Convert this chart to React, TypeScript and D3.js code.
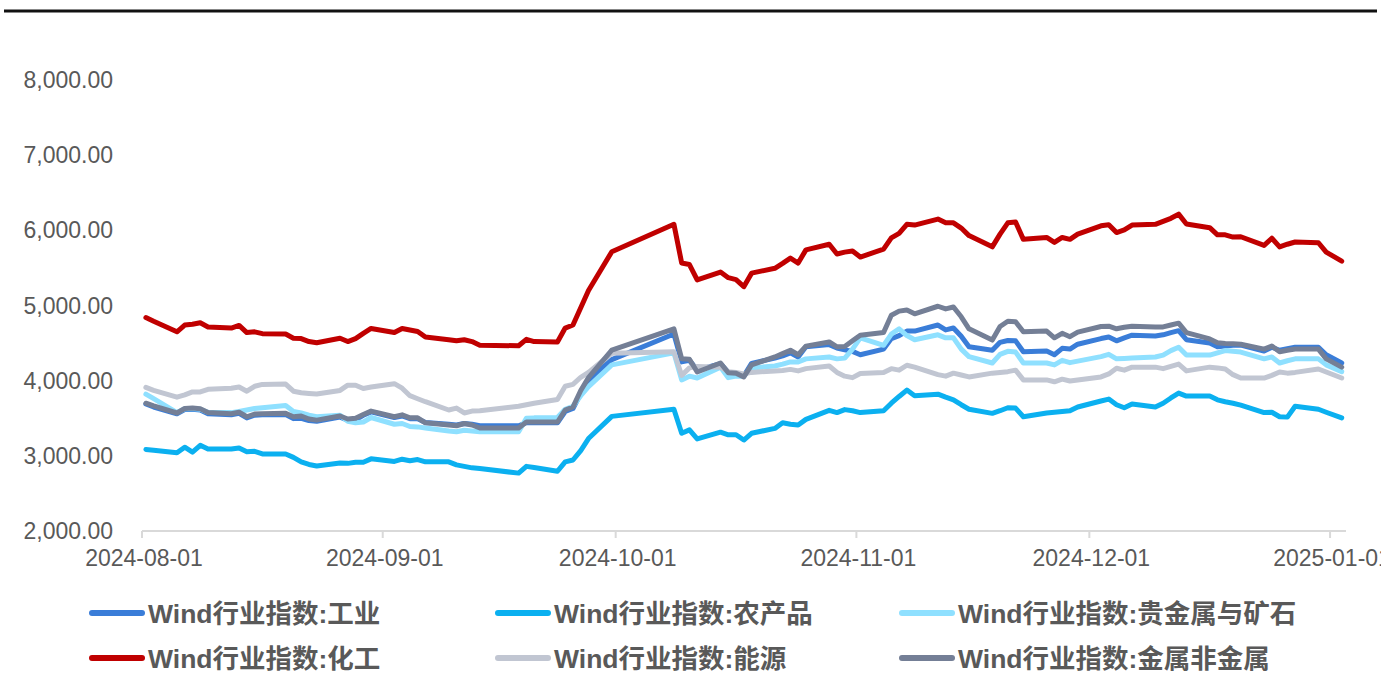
import React from "react";
import * as d3 from "d3";

const dates: string[] = [
  "2024-08-01","2024-08-02","2024-08-05","2024-08-06","2024-08-07","2024-08-08","2024-08-09","2024-08-12","2024-08-13","2024-08-14","2024-08-15","2024-08-16","2024-08-19","2024-08-20","2024-08-21","2024-08-22","2024-08-23","2024-08-26","2024-08-27","2024-08-28","2024-08-29","2024-08-30",
  "2024-09-02","2024-09-03","2024-09-04","2024-09-05","2024-09-06","2024-09-09","2024-09-10","2024-09-11","2024-09-12","2024-09-13","2024-09-18","2024-09-19","2024-09-20","2024-09-23","2024-09-24","2024-09-25","2024-09-26","2024-09-27","2024-09-30",
  "2024-10-08","2024-10-09","2024-10-10","2024-10-11","2024-10-14","2024-10-15","2024-10-16","2024-10-17","2024-10-18","2024-10-21","2024-10-22","2024-10-23","2024-10-24","2024-10-25","2024-10-28","2024-10-29","2024-10-30","2024-10-31",
  "2024-11-01","2024-11-04","2024-11-05","2024-11-06","2024-11-07","2024-11-08","2024-11-11","2024-11-12","2024-11-13","2024-11-14","2024-11-15","2024-11-18","2024-11-19","2024-11-20","2024-11-21","2024-11-22","2024-11-25","2024-11-26","2024-11-27","2024-11-28","2024-11-29",
  "2024-12-02","2024-12-03","2024-12-04","2024-12-05","2024-12-06","2024-12-09","2024-12-10","2024-12-11","2024-12-12","2024-12-13","2024-12-16","2024-12-17","2024-12-18","2024-12-19","2024-12-20","2024-12-23","2024-12-24","2024-12-25","2024-12-26","2024-12-27","2024-12-30","2024-12-31",
  "2025-01-02",
];

const industrial: number[] = [
  3690,3650,3560,3615,3620,3610,3560,3545,3565,3505,3540,3545,3550,3495,3500,3470,3460,3515,3475,3480,3540,3585,
  3510,3530,3495,3495,3445,3420,3410,3430,3420,3400,3400,3440,3440,3440,3590,3630,3830,4000,4280,
  4620,4250,4270,4140,4225,4110,4100,4060,4230,4300,4330,4370,4315,4450,4480,4435,4410,4390,
  4345,4420,4560,4600,4660,4660,4740,4675,4700,4590,4450,4405,4510,4535,4530,4385,4395,4345,4430,4420,4485,
  4560,4580,4530,4570,4605,4595,4610,4640,4665,4545,4500,4450,4460,4470,4475,4395,4445,4405,4425,4445,4445,4345,
  4235,
];

const agri: number[] = [
  3085,3075,3040,3115,3050,3140,3090,3090,3105,3055,3060,3025,3025,2980,2920,2885,2865,2905,2900,2915,2915,2960,
  2925,2955,2935,2950,2920,2920,2880,2860,2840,2830,2770,2860,2845,2795,2920,2945,3070,3230,3525,
  3620,3300,3345,3225,3315,3280,3280,3210,3300,3365,3440,3420,3410,3485,3605,3575,3615,3600,
  3575,3600,3700,3790,3875,3800,3820,3780,3745,3680,3620,3565,3600,3640,3635,3520,3570,3580,3590,3600,3650,
  3730,3755,3680,3640,3690,3650,3700,3770,3835,3795,3795,3745,3720,3700,3675,3575,3580,3520,3515,3660,3620,3580,
  3505,
];

const preciousMetals: number[] = [
  3820,3760,3575,3625,3630,3620,3580,3575,3590,3610,3630,3640,3670,3590,3570,3540,3520,3540,3460,3440,3450,3510,
  3420,3430,3390,3385,3370,3330,3320,3340,3330,3320,3320,3500,3505,3510,3620,3660,3800,3920,4210,
  4370,4010,4060,4035,4180,4040,4060,4060,4170,4195,4220,4250,4250,4290,4315,4290,4300,4420,
  4570,4470,4620,4690,4600,4545,4610,4570,4570,4420,4320,4235,4350,4390,4380,4235,4235,4210,4270,4240,4260,
  4320,4350,4290,4295,4300,4315,4340,4400,4445,4340,4340,4370,4400,4390,4380,4290,4315,4235,4265,4290,4290,4210,
  4120,
];

const chemicals: number[] = [
  4840,4790,4650,4740,4750,4770,4715,4700,4735,4640,4650,4625,4620,4565,4560,4520,4505,4565,4520,4560,4630,4695,
  4640,4695,4675,4655,4580,4545,4530,4545,4520,4470,4465,4550,4520,4515,4700,4740,4970,5200,5715,
  6080,5565,5545,5340,5445,5370,5345,5250,5430,5495,5560,5630,5565,5740,5815,5685,5710,5725,
  5645,5750,5900,5960,6080,6070,6150,6100,6100,6030,5930,5780,5950,6100,6110,5880,5905,5840,5905,5880,5950,
  6060,6075,5970,6005,6070,6080,6120,6160,6215,6085,6035,5940,5940,5910,5915,5800,5895,5780,5815,5845,5835,5710,
  5590,
];

const energy: number[] = [
  3910,3870,3780,3810,3850,3850,3885,3900,3915,3860,3925,3950,3955,3860,3840,3830,3822,3870,3940,3940,3895,3915,
  3960,3900,3800,3760,3720,3610,3635,3570,3595,3600,3660,3680,3700,3750,3925,3950,4045,4110,4365,
  4385,4070,4170,4190,4180,4120,4110,4090,4110,4130,4135,4150,4130,4160,4195,4110,4060,4040,
  4095,4110,4160,4140,4205,4180,4080,4060,4100,4075,4050,4100,4110,4120,4140,4010,4010,3985,4020,3995,4010,
  4050,4090,4165,4140,4180,4180,4160,4190,4220,4130,4180,4170,4155,4080,4035,4035,4070,4115,4100,4110,4155,4115,
  4035,
];

const metalsNonmetals: number[] = [
  3700,3665,3570,3630,3635,3625,3575,3560,3580,3520,3555,3560,3565,3520,3530,3490,3475,3530,3490,3500,3550,3595,
  3520,3545,3505,3505,3440,3410,3400,3430,3410,3370,3370,3450,3450,3450,3610,3650,3870,4040,4405,
  4690,4290,4285,4115,4235,4105,4100,4050,4210,4315,4360,4405,4345,4460,4515,4450,4455,4530,
  4605,4640,4870,4925,4940,4890,4990,4955,4980,4850,4690,4540,4720,4790,4785,4650,4660,4570,4630,4585,4645,
  4720,4725,4690,4710,4725,4715,4715,4740,4765,4640,4555,4505,4495,4490,4485,4420,4460,4385,4405,4420,4420,4290,
  4180,
];

const seriesNames: string[] = [
  "Wind行业指数:工业",
  "Wind行业指数:农产品",
  "Wind行业指数:贵金属与矿石",
  "Wind行业指数:化工",
  "Wind行业指数:能源",
  "Wind行业指数:金属非金属",
];
const seriesColors: string[] = ["#3A7DD8", "#0BB0F0", "#8FE0FF", "#C00000", "#C1C6D2", "#747F96"];
const seriesValues: number[][] = [industrial, agri, preciousMetals, chemicals, energy, metalsNonmetals];

const yTicks: number[] = [2000, 3000, 4000, 5000, 6000, 7000, 8000];
const xTickDates: string[] = ["2024-08-01", "2024-09-01", "2024-10-01", "2024-11-01", "2024-12-01", "2025-01-01"];

const W = 1381;
const H = 689;
const FONT = "'Liberation Sans', Arial, 'Noto Sans CJK SC', sans-serif";
const TEXT = "#595959";

export default function App() {
  const parse = d3.timeParse("%Y-%m-%d");
  const x = d3
    .scaleTime()
    .domain([parse("2024-08-01") as Date, parse("2025-01-03") as Date])
    .range([142, 1345.6]);
  const y = d3.scaleLinear().domain([2000, 8000]).range([531, 80]);
  const pts = dates.map((s) => d3.timeHour.offset(parse(s) as Date, 12));
  const line = d3
    .line<number>()
    .x((_, i) => x(pts[i]))
    .y((v) => y(v));
  const fmtY = d3.format(",.2f");
  const fmtX = d3.timeFormat("%Y-%m-%d");

  const legendCols = [89, 495, 899];
  const legendRows = [613, 658];

  return (
    <svg
      width={W}
      height={H}
      style={{ position: "absolute", left: 0, top: 0, display: "block", background: "#fff" }}
      fontFamily={FONT}
    >
      <rect x={0} y={0} width={W} height={H} fill="#fff" />
      <rect x={4} y={9.5} width={1373} height={3} fill="#111" />

      {yTicks.map((t) => (
        <text key={t} x={113} y={y(t)} dy="0.35em" textAnchor="end" fontSize={23} fill={TEXT}>
          {fmtY(t)}
        </text>
      ))}

      <line x1={142} x2={1346} y1={531} y2={531} stroke="#D9D9D9" strokeWidth={2} />
      {xTickDates.map((s) => {
        const d = parse(s) as Date;
        const xx = x(d);
        return (
          <g key={s}>
            <line x1={xx} x2={xx} y1={531} y2={538} stroke="#D9D9D9" strokeWidth={2} />
            <text x={xx + 2} y={566} textAnchor="middle" fontSize={23} fill={TEXT}>
              {fmtX(d)}
            </text>
          </g>
        );
      })}

      {seriesValues.map((vals, i) => (
        <path
          key={seriesNames[i]}
          d={line(vals) || ""}
          fill="none"
          stroke={seriesColors[i]}
          strokeWidth={5}
          strokeLinejoin="round"
          strokeLinecap="round"
        />
      ))}

      {seriesNames.map((name, i) => {
        const cx = legendCols[i % 3];
        const cy = legendRows[Math.floor(i / 3)];
        return (
          <g key={name}>
            <line x1={cx + 3} x2={cx + 53} y1={cy} y2={cy} stroke={seriesColors[i]} strokeWidth={6} strokeLinecap="round" />
            <text x={cx + 59} y={cy} dy="0.36em" fontSize={26.5} fontWeight="bold" fill={TEXT}>
              {name}
            </text>
          </g>
        );
      })}
    </svg>
  );
}
